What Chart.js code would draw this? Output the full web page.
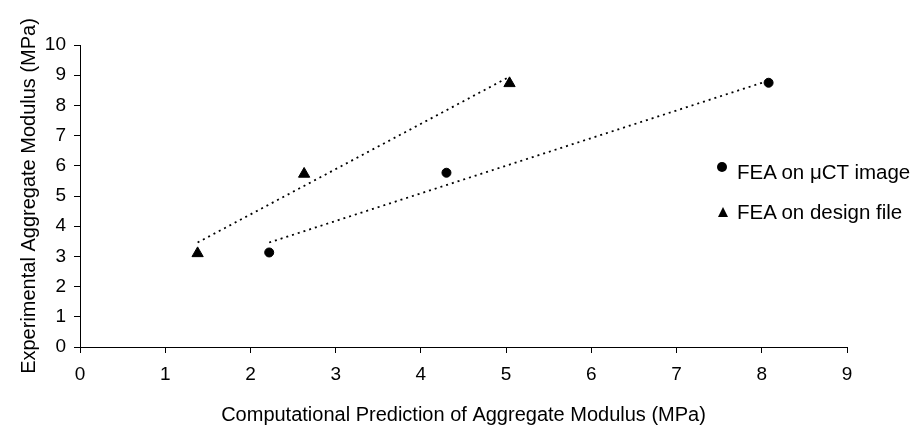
<!DOCTYPE html>
<html>
<head>
<meta charset="utf-8">
<script src="https://cdn.jsdelivr.net/npm/chart.js@4/dist/chart.umd.min.js"></script>
<style>
    body { margin: 0; background: #fff; }
    #wrap { position: relative; width: 922px; height: 432px; }
    .legend-text { position: absolute; left: 737px; font-family: "Liberation Sans", Arial, sans-serif; font-size: 20.5px; line-height: 24px; color: #000; white-space: nowrap; }
    .dot { position: absolute; left: 717px; top: 162px; width: 10px; height: 10px; border-radius: 50%; background: #000; }
    .tri { position: absolute; left: 718px; top: 207px; width: 0; height: 0; border-left: 5px solid transparent; border-right: 5px solid transparent; border-bottom: 10px solid #000; }
</style>
</head>
<body>
<div id="wrap">
    <canvas id="chart" width="922" height="432"></canvas>
    <div class="dot"></div>
    <div class="legend-text" style="top: 160px;">FEA on μCT image</div>
    <div class="tri"></div>
    <div class="legend-text" style="top: 200px;">FEA on design file</div>
</div>
<script>
// Values
const ctX = [2.22, 4.30, 8.08];
const ctY = [3.13, 5.77, 8.75];
const designX = [1.38, 2.63, 5.04];
const designY = [3.10, 5.73, 8.73];

// Dotted trend lines (end points as drawn)
const ctTrendX = [2.22, 8.08];
const ctTrendY = [3.46, 8.82];
const designTrendX = [1.38, 5.04];
const designTrendY = [3.46, 8.95];

const xTitle = 'Computational Prediction of Aggregate Modulus (MPa)';
const yTitle = 'Experimental Aggregate Modulus (MPa)';

const toPoints = (xs, ys) => xs.map((x, i) => ({ x: x, y: ys[i] }));

const tickFont = { family: '"Liberation Sans", Arial, sans-serif', size: 19 };
const titleFont = { family: '"Liberation Sans", Arial, sans-serif', size: 20 };

new Chart(document.getElementById('chart'), {
    type: 'scatter',
    data: {
        datasets: [
            {
                label: 'ct trend',
                data: toPoints(ctTrendX, ctTrendY),
                showLine: true,
                borderColor: '#000',
                borderWidth: 1.8,
                borderDash: [2, 4],
                pointRadius: 0
            },
            {
                label: 'design trend',
                data: toPoints(designTrendX, designTrendY),
                showLine: true,
                borderColor: '#000',
                borderWidth: 1.8,
                borderDash: [2, 4],
                pointRadius: 0
            },
            {
                label: 'FEA on μCT image',
                data: toPoints(ctX, ctY),
                pointStyle: 'circle',
                pointRadius: 4.5,
                backgroundColor: '#000',
                borderColor: '#000'
            },
            {
                label: 'FEA on design file',
                data: toPoints(designX, designY),
                pointStyle: 'triangle',
                pointRadius: 6.5,
                backgroundColor: '#000',
                borderColor: '#000'
            }
        ]
    },
    options: {
        responsive: false,
        animation: false,
        layout: { padding: { top: 45, right: 75, left: 0, bottom: 0 } },
        plugins: {
            legend: { display: false },
            tooltip: { enabled: false }
        },
        scales: {
            x: {
                type: 'linear',
                min: 0,
                max: 9,
                ticks: { stepSize: 1, color: '#000', font: tickFont, padding: 10, maxRotation: 0 },
                grid: { drawOnChartArea: false, drawTicks: true, tickLength: 6, color: '#000' },
                border: { color: '#000', width: 1 },
                title: { display: true, text: xTitle, color: '#000', font: titleFont, padding: { bottom: 5 } },
                afterFit: (scale) => { scale.height = 85; }
            },
            y: {
                type: 'linear',
                min: 0,
                max: 10,
                ticks: { stepSize: 1, color: '#000', font: tickFont, padding: 8 },
                grid: { drawOnChartArea: false, drawTicks: true, tickLength: 6, color: '#000' },
                border: { color: '#000', width: 1 },
                title: { display: true, text: yTitle, color: '#000', font: titleFont, padding: { top: 17 } },
                afterFit: (scale) => { scale.width = 80; }
            }
        }
    }
});
</script>
</body>
</html>
